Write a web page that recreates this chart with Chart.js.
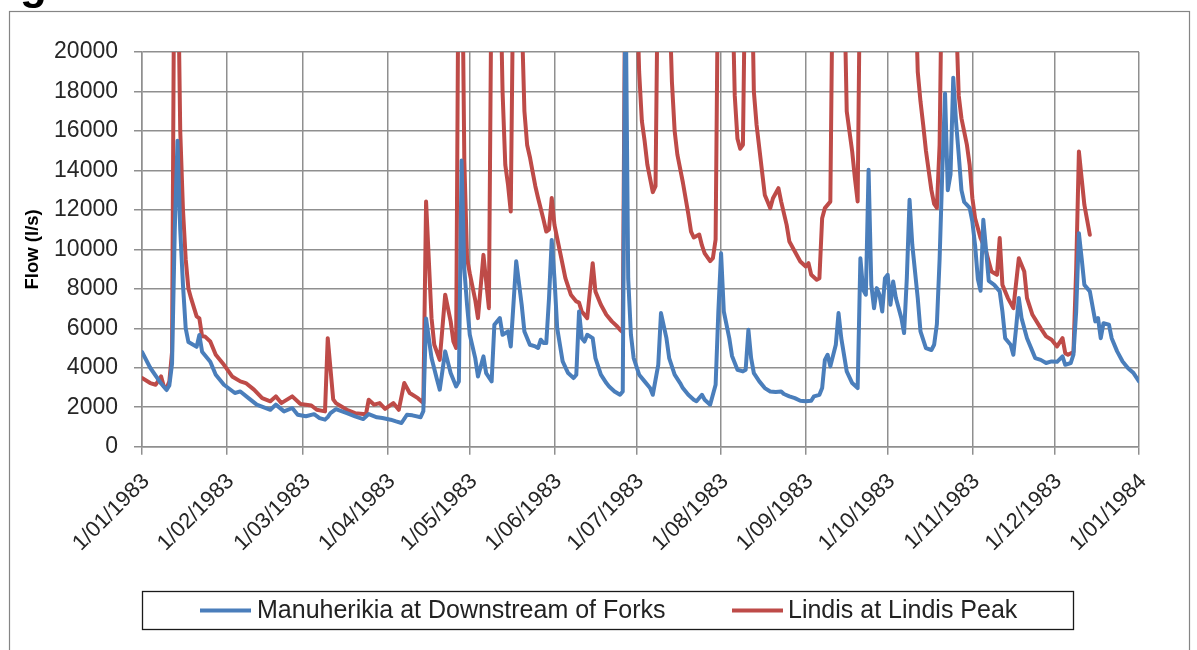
<!DOCTYPE html>
<html><head><meta charset="utf-8">
<script src="https://cdn.jsdelivr.net/npm/chart.js@4/dist/chart.umd.min.js"></script>
<style>html,body{margin:0;padding:0;background:#fff;overflow:hidden}canvas{display:block}</style>
</head><body>
<canvas id="c" width="1197" height="650"></canvas>
<script>
// Tick positions (day of year) and their labels
const tickDays = [0,31,59,90,120,151,181,212,243,273,304,334,365];
const tickLabels = ["1/01/1983","1/02/1983","1/03/1983","1/04/1983","1/05/1983","1/06/1983","1/07/1983","1/08/1983","1/09/1983","1/10/1983","1/11/1983","1/12/1983","1/01/1984"];
const seriesNames = ["Manuherikia at Downstream of Forks","Lindis at Lindis Peak"];
const yTitle = "Flow (l/s)";

// Manuherikia at Downstream of Forks (day of year, l/s)
const manuDay = [0,3,7,9,10,11,12,13,14,15,16,17,20,21,22,25,27,30,34,36,39,42,47,49,52,55,57,60,63,65,67,68,69,71,73,75,78,81,83,86,88,91,93,95,97,99,102,103,104,105,106,108,109,111,113,115,116,117,118,119,120,122,123,125,126,128,129,131,132,134,135,137,139,140,142,144,145,146,147,148,149,150,151,152,154,156,158,159,160,161,162,163,165,166,168,170,171,173,175,176,177,178,179,180,182,184,186,187,189,190,192,193,195,197,198,200,202,203,205,206,208,209,210,211,212,213,215,216,218,220,221,222,223,224,226,228,230,232,234,235,237,239,241,243,245,246,248,249,250,251,252,254,255,256,258,260,262,263,264,265,266,267,268,269,270,271,272,273,274,275,276,278,279,280,281,282,284,285,287,289,290,291,292,293,294,295,296,297,298,299,300,301,302,303,304,305,306,307,308,309,310,312,314,315,316,318,319,320,321,322,324,326,327,329,331,333,335,337,338,340,341,342,343,344,345,347,349,350,351,352,354,355,357,359,361,363,365];
const manuFlow = [4800,4000,3200,2870,3100,4200,11000,15500,11000,8200,6000,5300,5060,5660,4810,4300,3650,3140,2720,2800,2460,2130,1870,2130,1790,1960,1620,1540,1650,1450,1370,1500,1700,1900,1800,1700,1540,1400,1650,1490,1450,1370,1280,1200,1620,1590,1490,1800,6500,5500,4490,3400,2890,4830,3730,3055,3300,14500,9000,7190,5670,4490,3560,4575,3730,3310,6180,6515,5670,5840,5080,9400,7190,5840,5165,5080,5000,5420,5250,5250,7500,10480,8540,6010,4320,3730,3480,3650,6850,5500,5330,5670,5500,4490,3650,3225,3055,2800,2630,2800,24000,8500,5670,4490,3650,3310,2970,2630,4150,6770,5500,4490,3650,3225,2970,2630,2380,2300,2630,2380,2130,2630,3140,6850,9800,6850,5500,4600,3900,3815,3900,5925,4490,3730,3310,2970,2800,2770,2800,2670,2550,2460,2330,2300,2330,2550,2630,2970,4400,4660,4070,5165,6770,5500,3815,3225,2970,9550,7950,7700,14030,8200,7020,8035,7700,6850,8540,8710,7190,8370,7530,6515,5760,8540,12510,10230,7530,5840,5000,4900,5165,6200,9500,14000,17900,13000,13800,18700,16500,14800,13000,12400,12250,12100,11400,10200,8500,7900,11500,10000,8400,8200,7870,6850,5500,5165,4660,6010,7530,6515,5500,4830,4490,4400,4240,4320,4300,4575,4150,4240,4660,6850,10820,9550,8200,7870,6350,6515,5500,6260,6180,5500,4830,4320,3980,3730,3310];

// Lindis at Lindis Peak (day of year, l/s)
const lindisDay = [0,3,5,7,8,9,10,11,12,13,14,15,16,17,18,20,21,22,23,25,27,30,33,36,38,41,44,47,49,51,55,58,60,62,64,67,68,70,71,75,78,82,83,85,87,89,92,94,96,98,101,103,104,106,107,109,111,113,114,115,116,117,118,119,120,122,123,125,127,128,129,130,131,132,133,134,135,136,137,138,139,140,141,142,143,144,145,147,148,149,150,151,153,155,157,159,160,161,163,165,166,168,170,172,174,175,176,177,178,179,180,181,182,183,184,185,186,187,188,189,190,191,192,193,194,195,196,198,200,201,202,204,205,206,208,209,210,211,212,213,214,215,216,217,218,219,220,221,222,223,224,225,227,228,229,230,231,233,234,236,237,239,241,243,244,245,247,248,249,250,252,253,254,255,256,257,258,260,261,262,263,264,270,276,282,283,284,285,286,287,288,289,290,291,292,293,294,297,298,299,300,302,303,304,305,307,309,310,311,313,314,315,317,319,321,323,324,326,329,331,333,335,337,338,339,341,342,343,344,345,347];
const lindisFlow = [3480,3225,3140,3560,3055,2970,3300,4800,30000,26000,16000,12000,9500,8000,7500,6600,6500,5600,5590,5330,4660,4150,3560,3310,3225,2890,2460,2300,2550,2210,2550,2160,2130,2090,1870,1790,5500,2400,2210,1870,1700,1650,2380,2130,2210,1920,2210,1870,3225,2720,2460,2210,12420,6515,5165,4400,7700,6350,5330,5000,28000,28000,14500,9550,8780,7430,6515,9720,7020,25000,30000,30000,25000,18000,14280,13270,11920,25000,30000,30000,22000,17000,15290,14680,13940,13200,12600,11500,10900,11000,12600,11240,9890,8540,7700,7360,7300,6850,6515,9300,7870,7190,6685,6350,6090,5925,5800,26000,30000,30000,30000,24000,19000,16500,15500,14300,13600,12900,13200,26000,30000,30000,30000,23000,18500,16000,14800,13400,11800,10900,10600,10750,10200,9800,9400,9550,10500,26000,30000,30000,30000,30000,24000,17800,15600,15100,15300,26000,30000,26000,18000,16300,13940,12760,12420,12090,12590,13100,12420,11240,10400,9890,9385,9130,9300,8710,8460,8540,11580,12090,12420,26000,30000,30000,30000,24000,17000,14960,13600,12420,26000,30000,30000,30000,30000,24000,19000,17500,16300,15000,14000,13000,12300,12100,15300,26000,30000,30000,22000,17800,16640,15290,14280,12590,11580,10570,9900,9385,8880,8710,10570,8200,7530,7020,9550,8880,7530,6685,6010,5590,5420,5080,5500,4740,4660,4800,9000,14960,13600,12250,10740];

const toPoints = (days, vals) => days.map((d, i) => ({x: d, y: vals[i]}));

const FONT = '"Liberation Sans", Arial, sans-serif';
Chart.defaults.font.family = FONT;

const framePlugin = {
  id: 'frame',
  beforeDraw(chart) {
    const ctx = chart.ctx;
    ctx.save();
    ctx.fillStyle = '#ffffff';
    ctx.fillRect(0, 0, chart.width, chart.height);
    ctx.restore();
  },
  afterDraw(chart) {
    const ctx = chart.ctx;
    ctx.save();
    // caption above the frame, cut off by the top edge (only the descender shows)
    ctx.fillStyle = '#000';
    ctx.font = 'bold 44px ' + FONT;
    ctx.textBaseline = 'alphabetic';
    ctx.textAlign = 'left';
    ctx.fillText('Figure', -19, -1);
    // outer chart-area frame
    ctx.strokeStyle = '#858585';
    ctx.lineWidth = 1.2;
    ctx.strokeRect(9.5, 11.5, 1180, 700);
    // boxed legend
    const bx = 142.5, by = 591.5, bw = 931, bh = 38;
    ctx.strokeStyle = '#1a1a1a';
    ctx.lineWidth = 1.3;
    ctx.strokeRect(bx, by, bw, bh);
    const cy = by + bh / 2;
    const items = [{x0: 200, x1: 251, tx: 257}, {x0: 732, x1: 783, tx: 788}];
    ctx.font = '25px ' + FONT;
    ctx.textBaseline = 'middle';
    chart.data.datasets.forEach((ds, i) => {
      const it = items[i];
      ctx.strokeStyle = ds.borderColor;
      ctx.lineWidth = 4;
      ctx.beginPath();
      ctx.moveTo(it.x0, cy);
      ctx.lineTo(it.x1, cy);
      ctx.stroke();
      ctx.fillStyle = '#222';
      ctx.fillText(ds.label, it.tx, cy + 1);
    });
    ctx.restore();
  }
};

const gridColor = '#8f8f8f';
new Chart(document.getElementById('c'), {
  type: 'line',
  data: {
    datasets: [
      {label: seriesNames[0], data: toPoints(manuDay, manuFlow), borderColor: '#4A7EBB', backgroundColor: '#4A7EBB', borderWidth: 4},
      {label: seriesNames[1], data: toPoints(lindisDay, lindisFlow), borderColor: '#BE4B48', backgroundColor: '#BE4B48', borderWidth: 4}
    ]
  },
  options: {
    responsive: false,
    animation: false,
    devicePixelRatio: 1,
    layout: {padding: {top: 52, left: 0, right: 58, bottom: 83}},
    plugins: {legend: {display: false}, tooltip: {enabled: false}},
    elements: {point: {radius: 0}, line: {tension: 0, borderJoinStyle: 'round', borderCapStyle: 'round'}},
    scales: {
      x: {
        type: 'linear', min: 0, max: 365,
        afterBuildTicks: s => { s.ticks = tickDays.map(v => ({value: v})); },
        afterFit: s => { s.height = 120.3; },
        ticks: {autoSkip: false, minRotation: 45, maxRotation: 45, padding: 14, labelOffset: 4,
                font: {size: 22}, color: '#262626',
                callback: (v, i) => tickLabels[i]},
        grid: {color: gridColor, lineWidth: 1.5, tickLength: 8},
        border: {color: gridColor, width: 1.5}
      },
      y: {
        min: 0, max: 20000,
        afterFit: s => { s.width = 142; },
        ticks: {stepSize: 2000, padding: 16, font: {size: 23}, color: '#262626', callback: v => String(v)},
        grid: {color: gridColor, lineWidth: 1.5, tickLength: 8},
        border: {color: gridColor, width: 1.5},
        title: {display: true, text: yTitle, color: '#000', font: {size: 18.5, weight: 'bold'}, padding: {top: 22, bottom: 0}}
      }
    }
  },
  plugins: [framePlugin]
});
</script>
</body></html>
